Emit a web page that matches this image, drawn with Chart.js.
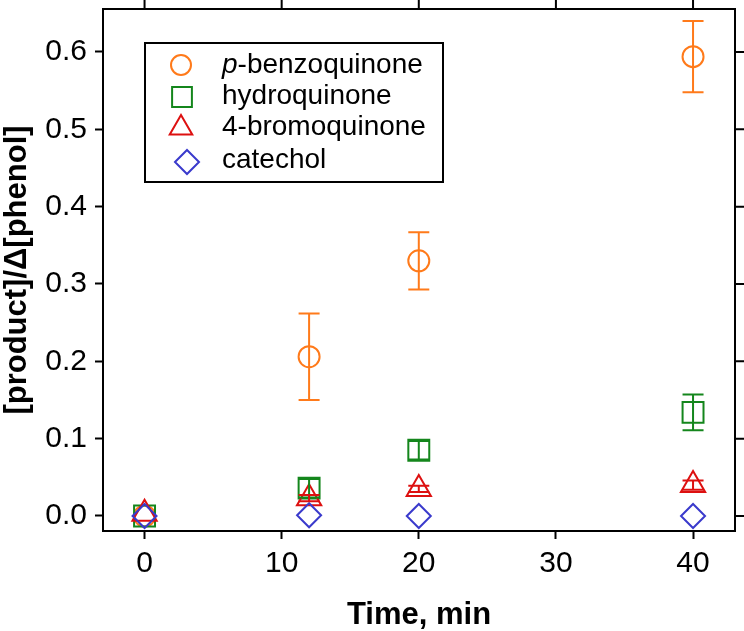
<!DOCTYPE html>
<html>
<head>
<meta charset="utf-8">
<script src="https://cdn.jsdelivr.net/npm/chart.js@4.4.1/dist/chart.umd.min.js"></script>
<style>
  body { margin: 0; background: #fff; }
  #wrap { width: 744px; height: 631px; position: relative; }
</style>
</head>
<body>
<div id="wrap"><canvas id="productChart"></canvas></div>
<script>
// sampling times (min)
const times = [0, 12, 20, 40];

// series names and values
const seriesNames = ['p-benzoquinone', 'hydroquinone', '4-bromoquinone', 'catechol'];
const benzoquinone = [0.000, 0.206, 0.330, 0.594];
const hydroquinone = [0.000, 0.036, 0.085, 0.134];
const bromoquinone = [0.003, 0.023, 0.035, 0.040];
const catechol = [0.000, 0.001, 0.000, 0.000];

// error bar half-widths
const benzoquinoneErr = [0, 0.056, 0.037, 0.046];
const hydroquinoneErr = [0, 0.012, 0.012, 0.023];
const bromoquinoneErr = [0, 0.004, 0.004, 0.006];
const catecholErr = [0, 0, 0, 0];

const xTicks = [0, 10, 20, 30, 40];
const yTicks = [0.0, 0.1, 0.2, 0.3, 0.4, 0.5, 0.6];

const colors = ['#ff7a1a', '#14861c', '#dd1010', '#3a3acc'];
const markers = ['circle', 'rect', 'triangle', 'rectRot'];
const radii = [10.5, 14.8, 14, 12];
const FONT = '"Liberation Sans", Arial, sans-serif';

Chart.defaults.color = '#000';
Chart.defaults.font.family = FONT;

const values = [benzoquinone, hydroquinone, bromoquinone, catechol];
const errors = [benzoquinoneErr, hydroquinoneErr, bromoquinoneErr, catecholErr];

const datasets = values.map((vals, i) => ({
    label: seriesNames[i],
    data: times.map((t, j) => ({ x: t, y: vals[j] })),
    showLine: false,
    pointStyle: markers[i],
    pointRadius: radii[i],
    pointHoverRadius: radii[i],
    borderColor: colors[i],
    backgroundColor: 'rgba(0,0,0,0)',
    pointBorderWidth: 2,
    order: 4 - i
}));

// vertical error bars with caps
const errorBars = {
    id: 'errorBars',
    afterDatasetsDraw(chart) {
        const ctx = chart.ctx;
        const ys = chart.scales.y;
        ctx.save();
        errors.forEach((errs, i) => {
            const meta = chart.getDatasetMeta(i);
            meta.data.forEach((pt, j) => {
                const e = errs[j];
                if (!e) return;
                const top = ys.getPixelForValue(values[i][j] + e);
                const bot = ys.getPixelForValue(values[i][j] - e);
                ctx.strokeStyle = colors[i];
                ctx.lineWidth = 2;
                ctx.beginPath();
                ctx.moveTo(pt.x, top);
                ctx.lineTo(pt.x, bot);
                ctx.moveTo(pt.x - 10.5, top);
                ctx.lineTo(pt.x + 10.5, top);
                ctx.moveTo(pt.x - 10.5, bot);
                ctx.lineTo(pt.x + 10.5, bot);
                ctx.stroke();
            });
        });
        ctx.restore();
    }
};

// box around the plot, outward ticks on top and right, and the legend
const frameAndLegend = {
    id: 'frameAndLegend',
    afterDraw(chart) {
        const ctx = chart.ctx;
        const a = chart.chartArea;
        const xs = chart.scales.x, ys = chart.scales.y;
        ctx.save();
        ctx.strokeStyle = '#000';
        ctx.lineWidth = 2;
        ctx.strokeRect(a.left, a.top, a.right - a.left, a.bottom - a.top);
        ctx.beginPath();
        xTicks.forEach(v => {
            const px = xs.getPixelForValue(v);
            ctx.moveTo(px, a.top);
            ctx.lineTo(px, a.top - 9);
        });
        yTicks.forEach(v => {
            const py = ys.getPixelForValue(v);
            ctx.moveTo(a.right, py);
            ctx.lineTo(a.right + 9, py);
        });
        ctx.stroke();

        // legend
        ctx.strokeRect(145, 43, 298, 139);
        const markY = [65, 97, 128, 162];
        const textY = [73, 104, 135, 168];
        const markX = [181, 182, 181, 187];
        const legR = [10, 14, 13, 12];
        seriesNames.forEach((name, i) => {
            ctx.strokeStyle = colors[i];
            ctx.fillStyle = 'rgba(0,0,0,0)';
            ctx.lineWidth = 2;
            Chart.helpers.drawPoint(ctx, {
                pointStyle: markers[i], radius: legR[i], borderWidth: 2, rotation: 0
            }, markX[i], markY[i]);
            ctx.fillStyle = '#000';
            ctx.textBaseline = 'alphabetic';
            ctx.textAlign = 'left';
            if (name.startsWith('p-')) {
                ctx.font = 'italic 28px ' + FONT;
                ctx.fillText('p', 222, textY[i]);
                const w = ctx.measureText('p').width;
                ctx.font = '28px ' + FONT;
                ctx.fillText(name.slice(1), 222 + w, textY[i]);
            } else {
                ctx.font = '28px ' + FONT;
                ctx.fillText(name, 222, textY[i]);
            }
        });
        ctx.restore();
    }
};

new Chart(document.getElementById('productChart'), {
    type: 'scatter',
    data: { datasets: datasets },
    options: {
        responsive: true,
        maintainAspectRatio: false,
        animation: false,
        events: [],
        layout: { autoPadding: false, padding: { top: 9, right: 9, left: 0, bottom: 0 } },
        plugins: {
            legend: { display: false },
            tooltip: { enabled: false }
        },
        scales: {
            x: {
                type: 'linear',
                min: -3.03,
                max: 43.06,
                afterFit: s => { s.height = 100; s.paddingLeft = 0; s.paddingRight = 0; },
                afterBuildTicks: s => { s.ticks = xTicks.map(v => ({ value: v })); },
                grid: { drawOnChartArea: false, tickLength: 8, tickWidth: 2, tickColor: '#000' },
                border: { display: false },
                ticks: {
                    padding: 7,
                    font: { size: 30 },
                    callback: v => String(v)
                },
                title: {
                    display: true,
                    text: 'Time, min',
                    font: { size: 31, weight: 'bold', lineHeight: 1 },
                    padding: { top: 0, bottom: 0 }
                }
            },
            y: {
                type: 'linear',
                min: -0.0194,
                max: 0.6556,
                afterFit: s => { s.width = 103; s.paddingTop = 0; s.paddingBottom = 0; },
                afterBuildTicks: s => { s.ticks = yTicks.map(v => ({ value: v })); },
                grid: { drawOnChartArea: false, tickLength: 8, tickWidth: 2, tickColor: '#000' },
                border: { display: false },
                ticks: {
                    padding: 8,
                    font: { size: 30 },
                    callback: v => Number(v).toFixed(1)
                },
                title: {
                    display: true,
                    text: '[product]/\u0394[phenol]',
                    font: { size: 31, weight: 'bold', lineHeight: 1 },
                    padding: { top: 2, bottom: 0 }
                }
            }
        }
    },
    plugins: [errorBars, frameAndLegend]
});
</script>
</body>
</html>
